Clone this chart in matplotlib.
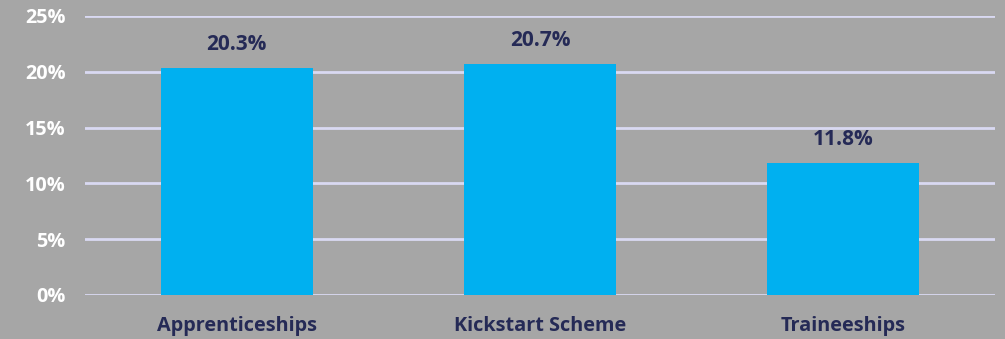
"""Bar chart of percentages by programme"""

import matplotlib.pyplot as plt

CATEGORIES = ["Apprenticeships", "Kickstart Scheme", "Traineeships"]
VALUES = [20.3, 20.7, 11.8]
Y_TICKS = [0, 5, 10, 15, 20, 25]

BG = "#a6a6a6"
BAR = "#00b0f0"
NAVY = "#252a56"
GRID = "#d9d9f2"


def main():
    plt.rcParams["font.family"] = ["Open Sans", "DejaVu Sans"]
    fig = plt.figure(figsize=(10.05, 3.39), dpi=100, facecolor=BG)
    ax = fig.add_axes([0.0846, 0.130, 0.9054, 0.823], facecolor=BG)

    x = range(len(CATEGORIES))
    ax.bar(x, VALUES, width=0.5, color=BAR, zorder=3)
    for xi, v in zip(x, VALUES):
        ax.text(xi, v + 1.2, f"{v:.1f}%", ha="center", va="bottom",
                fontsize=15, fontweight="bold", color=NAVY)

    ax.set_xlim(-0.5, len(CATEGORIES) - 0.5)
    ax.set_ylim(0, 25)
    ax.set_yticks(Y_TICKS)
    ax.set_yticklabels([f"{t}%" for t in Y_TICKS])
    ax.set_xticks(list(x))
    ax.set_xticklabels(CATEGORIES)

    ax.grid(axis="y", color=GRID, linewidth=2, zorder=0)
    for s in ax.spines.values():
        s.set_visible(False)
    ax.tick_params(axis="both", length=0)
    ax.tick_params(axis="y", pad=14, labelsize=14.3, labelcolor="white")
    ax.tick_params(axis="x", pad=15, labelsize=14.3, labelcolor=NAVY)
    for lab in ax.get_xticklabels() + ax.get_yticklabels():
        lab.set_fontweight("bold")

    fig.savefig("out.png", facecolor=BG)


if __name__ == "__main__":
    main()
